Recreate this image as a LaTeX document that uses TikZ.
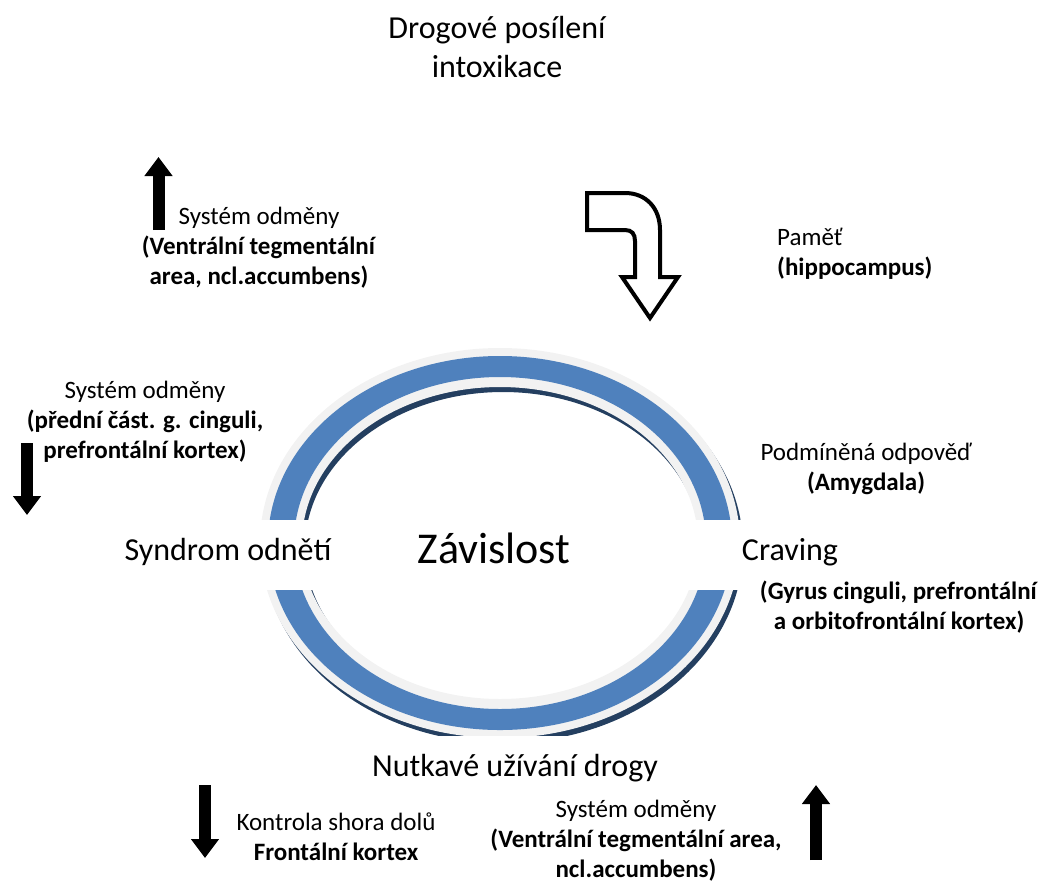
\documentclass[tikz,border=0pt]{standalone}
\usepackage{fontspec}
\setmainfont{Carlito}
\usetikzlibrary{arrows.meta}
\definecolor{ringblue}{HTML}{4F81BD}
\definecolor{ringgray}{HTML}{F2F2F2}
\definecolor{ringnavy}{HTML}{243F60}
\tikzstyle{stage}=[font=\fontsize{32}{39}\selectfont,align=center,inner sep=0pt]
\tikzstyle{core}=[font=\fontsize{44}{53}\selectfont,inner sep=0pt]
\tikzstyle{region}=[font=\fontsize{25}{30}\selectfont,align=center,inner sep=0pt]
\tikzstyle{blockarrow}=[line width=12pt,-{Triangle[width=27pt,length=19pt]}]

\begin{document}
\begin{tikzpicture}[x=1pt,y=-1pt]
	\useasboundingbox (0,0) rectangle (1043,887);

	% the ring: shadow, grey rim, blue band
	\fill[ringnavy,even odd rule] (503,548) ellipse [x radius=240pt,y radius=195pt]
		(503,548) ellipse [x radius=198pt,y radius=156pt];
	\fill[ringgray,even odd rule] (500,543) ellipse [x radius=240pt,y radius=195pt]
		(500,543) ellipse [x radius=198pt,y radius=156pt];
	\fill[ringblue,even odd rule] (500,543) ellipse [x radius=232pt,y radius=187pt]
		(500,543) ellipse [x radius=206pt,y radius=166pt];
	% white bands behind the stage texts
	\fill[white] (250,520) rectangle (748,590);
	\fill[white] (250,736) rectangle (760,800);

	% stages of the cycle
	\node[stage] (intox) at (497,47) {Drogové posílení\\intoxikace};
	\node[core] (dep) at (494,548) {Závislost};
	\node[stage] (withdraw) at (228,552) {Syndrom odnětí};
	\node[stage] (crav) at (790,552) {Craving};
	\node[stage] (compuse) at (515,768) {Nutkavé užívání drogy};

	% brain regions
	\node[region] (vta1) at (259,248) {Systém odměny\\\textbf{(Ventrální tegmentální}\\\textbf{area, ncl.accumbens)}};
	\node[region,anchor=west,align=left] (memory) at (777,254) {Paměť\\\textbf{(hippocampus)}};
	\node[region] (amyg) at (866,469) {Podmíněná odpověď\\\textbf{(Amygdala)}};
	\node[region] (gyrus) at (899,607) {\textbf{(Gyrus cinguli, prefrontální}\\\textbf{a orbitofrontální kortex)}};
	\node[region] (cing) at (145,422) {Systém odměny\\\textbf{(přední část. g. cinguli,}\\\textbf{prefrontální kortex)}};
	\node[region] (topdown) at (336,837) {Kontrola shora dolů\\\textbf{Frontální kortex}};
	\node[region] (vta2) at (636,841) {Systém odměny\\\textbf{(Ventrální tegmentální area,}\\\textbf{ncl.accumbens)}};

	% up and down arrows
	\foreach \name/\xpos/\ystart/\yend in {rewup/158.5/230/157, rewdown/27/443/515,
								ctrldown/205/785/858, vtaup/816/860/785}
	{
		\coordinate (\name-s) at (\xpos,\ystart);
		\coordinate (\name-e) at (\xpos,\yend);
		\draw[blockarrow] (\name-s) -- (\name-e);
	}

	% bent arrow towards the ring
	\draw[line width=4pt,fill=white,line join=miter]
		(587,193) -- (625,193) .. controls (646,193) and (660,208) .. (660,230)
		-- (660,277) -- (678,277) -- (650,318) -- (622,277) -- (635,277) -- (635,241)
		.. controls (635,234) and (632,230) .. (625,230) -- (587,230) -- cycle;
\end{tikzpicture}
\end{document}
